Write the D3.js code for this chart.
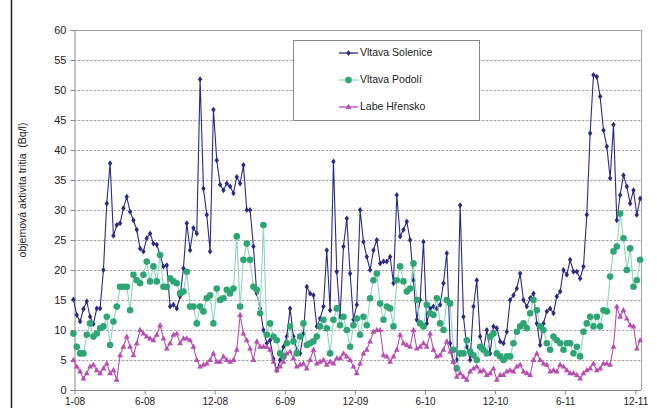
<!DOCTYPE html>
<html><head><meta charset="utf-8">
<script src="https://cdn.jsdelivr.net/npm/d3@7"></script>
<style>
body{margin:0;background:#fff}
svg{display:block}
text{font-family:"Liberation Sans",Arial,sans-serif;fill:#222}
</style>
</head><body>
<svg id="chart" width="657" height="408"></svg>
<script>
// ---- data ----
const tickLabels = ["1-08","6-08","12-08","6-09","12-09","6-10","12-10","6-11","12-11"];
const tickWeeks = [0,26,52,78,104,130,156,182,208];
const yTicks = [0,5,10,15,20,25,30,35,40,45,50,55,60];
const seriesNames = ["Vltava Solenice","Vltava Podolí","Labe Hřensko"];
const yTitle = "objemová aktivita tritia  (Bq/l)";

const solenice = [
15.1,12.5,11.4,13.5,14.8,12.2,11.0,13.6,13.6,20.0,
31.1,37.8,25.7,27.5,27.8,30.3,32.2,29.7,28.3,26.7,
23.6,23.1,25.3,26.1,24.4,24.2,22.5,20.6,20.8,13.9,
14.2,13.6,15.6,20.3,27.8,23.3,27.0,26.1,51.8,33.6,
29.2,23.1,46.7,38.3,34.2,33.3,34.4,33.9,32.8,35.5,
34.4,37.5,30.0,30.0,23.9,16.1,13.6,10.0,7.8,8.3,
5.2,3.3,5.0,7.2,8.9,13.6,8.9,6.7,6.1,9.4,
17.2,16.1,15.8,10.6,11.9,13.9,23.3,13.3,38.1,19.7,
12.2,23.9,28.6,19.4,11.7,14.2,30.0,24.7,22.2,20.0,
23.3,25.0,21.1,21.4,21.4,22.2,17.8,32.5,25.6,26.7,
28.1,25.0,18.3,11.7,15.0,24.7,11.1,13.6,13.9,13.6,
14.2,17.8,22.8,7.8,4.7,5.0,30.8,12.2,7.2,5.0,
13.9,18.3,8.9,6.7,10.0,6.1,10.6,10.3,8.1,7.8,
9.7,15.0,15.8,16.9,19.4,15.0,13.9,15.3,16.1,11.1,
7.5,11.1,13.1,13.6,12.8,15.6,16.4,20.0,19.2,21.7,
19.7,19.7,18.6,20.6,29.2,42.8,52.5,52.2,48.9,43.3,
40.6,35.3,44.2,28.3,32.5,35.8,33.9,31.1,33.3,29.2,
31.9];

const podoli = [
9.4,7.2,6.1,6.1,9.2,11.1,8.9,9.4,10.3,10.6,
12.2,7.5,11.4,13.9,17.2,17.2,17.2,13.3,19.2,18.3,
17.8,19.2,21.4,18.1,20.6,18.1,22.5,17.2,17.2,18.6,
18.1,17.8,16.1,16.4,19.7,13.9,13.9,11.1,13.9,13.1,
15.3,15.8,11.1,16.9,15.0,15.3,16.7,16.1,16.9,25.6,
13.9,21.7,24.4,21.7,17.2,16.7,12.8,27.5,9.2,11.1,
8.9,8.3,6.1,5.6,7.8,10.6,8.1,6.1,8.9,11.1,
7.5,7.8,8.1,8.9,10.6,11.7,10.3,6.1,11.7,13.6,
10.8,12.2,10.0,7.2,10.8,11.9,9.2,12.2,10.8,15.3,
18.3,19.4,14.4,11.7,13.9,13.6,10.6,18.3,20.6,18.1,
16.4,16.9,21.1,15.0,11.1,10.6,14.2,12.8,12.5,15.3,
11.1,10.0,15.0,14.4,6.7,3.6,6.1,6.1,8.3,6.4,
5.8,5.0,7.2,6.7,6.1,8.9,9.4,6.1,5.6,5.0,
5.6,5.6,7.8,9.7,10.6,11.1,10.3,12.8,15.0,13.3,
10.6,10.0,7.8,6.7,8.9,8.3,7.8,6.7,7.8,7.8,
6.1,7.2,5.6,9.7,11.1,12.2,10.6,12.2,10.6,13.3,
13.1,18.9,23.1,23.9,29.4,25.3,20.0,23.6,17.2,18.3,
21.7];

const labe = [
5.0,3.9,3.1,1.9,2.8,3.9,4.2,3.3,2.8,3.6,
4.4,2.8,3.3,1.7,5.8,7.2,8.9,7.2,5.8,7.8,
10.0,9.4,8.9,8.6,8.3,9.2,10.8,8.6,6.9,7.8,
9.2,9.4,7.8,8.6,8.6,8.3,7.2,5.0,3.9,4.2,
4.4,5.0,6.1,4.7,4.7,5.6,5.0,4.7,5.0,6.7,
12.5,9.4,8.3,6.9,5.0,8.1,7.2,7.2,7.2,6.7,
4.7,3.3,3.9,4.7,6.1,6.4,5.3,3.9,4.2,4.4,
3.6,5.0,6.7,4.4,4.7,5.0,4.2,4.7,4.4,5.3,
5.3,6.1,5.6,5.0,3.9,2.8,4.4,6.1,6.7,8.1,
9.7,10.0,10.0,5.8,5.6,4.7,5.6,6.7,9.2,7.8,
7.5,7.2,10.0,6.9,7.2,7.8,7.2,9.4,6.7,5.6,
5.8,6.7,8.1,6.4,4.7,2.2,2.8,2.2,1.7,3.1,
3.6,3.9,3.1,3.3,2.5,2.8,3.6,1.7,2.5,2.5,
3.1,3.3,3.1,3.9,4.2,3.1,2.8,2.5,5.0,6.1,
5.0,4.4,4.2,3.1,3.3,3.1,4.2,3.9,3.3,2.8,
2.8,2.5,1.9,2.8,3.3,3.6,4.4,3.3,3.6,4.4,
4.4,4.2,7.2,13.9,12.2,13.3,11.9,10.8,10.6,6.9,
8.3];

// ---- layout ----
const svg = d3.select("#chart");
const plot = {left:74, right:641, top:30, bottom:390};
const x = d3.scaleLinear().domain([0,208]).range([74.5,635.3]);
const y = d3.scaleLinear().domain([0,60]).range([plot.bottom, plot.top]);
const firstWeek = -0.4, lastWeek = 209.8;

// outer frame line at left
svg.append("line").attr("x1",11.5).attr("x2",11.5).attr("y1",0).attr("y2",408)
  .attr("stroke","#222").attr("stroke-width",1.5);

// gridlines
svg.append("g").selectAll("line").data(yTicks.filter(d=>d>0)).join("line")
  .attr("x1",plot.left).attr("x2",plot.right)
  .attr("y1",d=>Math.round(y(d))+0.5).attr("y2",d=>Math.round(y(d))+0.5)
  .attr("stroke","#8c8c8c").attr("stroke-width",0.8).attr("stroke-dasharray","2.5,1.5");

// plot border (top & right)
svg.append("path")
  .attr("d",`M${plot.left},${plot.top+0.5}H${plot.right+0.5}V${plot.bottom}`)
  .attr("fill","none").attr("stroke","#a0a0a0").attr("stroke-width",1);

// y axis
const yAxis = d3.axisLeft(y).tickValues(yTicks).tickSize(4).tickPadding(4);
const gy = svg.append("g").attr("transform",`translate(${plot.left+0.5},0)`).call(yAxis);
gy.select(".domain").attr("stroke","#888");
gy.selectAll(".tick line").attr("stroke","#888");
gy.selectAll(".tick text").attr("font-size","11px").attr("fill","#222")
  .attr("font-family",'"Liberation Sans",Arial,sans-serif');

// x axis
const xAxis = d3.axisBottom(x).tickValues(tickWeeks).tickFormat((d,i)=>tickLabels[i])
  .tickSize(4).tickPadding(3).tickSizeOuter(0);
const gx = svg.append("g").attr("transform",`translate(0,${plot.bottom+0.5})`).call(xAxis);
gx.select(".domain").attr("stroke","#888").attr("d",`M${plot.left},0H${plot.right}`);
gx.selectAll(".tick line").attr("stroke","#888");
gx.selectAll(".tick text").attr("font-size","10px").attr("fill","#222")
  .attr("font-family",'"Liberation Sans",Arial,sans-serif');

// y title
svg.append("text").attr("transform","translate(23,190) rotate(-90)")
  .attr("text-anchor","middle").attr("dominant-baseline","middle")
  .style("white-space","pre").attr("font-size","10.5px").text(yTitle);

// marker shapes
const diamond = "M0,-3L2.2,0L0,3L-2.2,0Z";
const triangle = "M0,-3.2L2.9,2L-2.9,2Z";

const series = [
  {name:seriesNames[0], values:solenice, line:"#2b2a86", lw:1.1, fill:"#2b2a86", shape:"diamond"},
  {name:seriesNames[1], values:podoli, line:"#8dd8b8", lw:1.1, fill:"#2ca673", shape:"circle"},
  {name:seriesNames[2], values:labe, line:"#b84db2", lw:1.1, fill:"#b84db2", shape:"triangle"}
];

function drawMarker(g, s, cx, cy){
  if (s.shape==="circle") {
    g.append("circle").attr("cx",cx).attr("cy",cy).attr("r",3.3).attr("fill",s.fill);
  } else {
    g.append("path").attr("d", s.shape==="diamond"?diamond:triangle)
      .attr("transform",`translate(${cx},${cy})`).attr("fill",s.fill);
  }
}

series.forEach(s=>{
  const n = s.values.length;
  const wk = i => firstWeek + i*(lastWeek-firstWeek)/(n-1);
  const g = svg.append("g");
  g.append("path").datum(s.values)
    .attr("d", d3.line().x((d,i)=>x(wk(i))).y(d=>y(d)))
    .attr("fill","none").attr("stroke",s.line).attr("stroke-width",s.lw);
  const mg = g.append("g");
  s.values.forEach((v,i)=>drawMarker(mg, s, x(wk(i)), y(v)));
});

// legend
const lg = svg.append("g");
lg.append("rect").attr("x",293.5).attr("y",40.5).attr("width",186).attr("height",80)
  .attr("fill","#fff").attr("stroke","#888");
const legY = [53,80,107];
series.forEach((s,i)=>{
  lg.append("line").attr("x1",339).attr("x2",358).attr("y1",legY[i]).attr("y2",legY[i])
    .attr("stroke",s.line).attr("stroke-width",1.3);
  drawMarker(lg, s, 348.5, legY[i]);
  lg.append("text").attr("x",360).attr("y",legY[i]).attr("dominant-baseline","middle")
    .attr("font-size","10.5px").text(s.name);
});
</script>
</body></html>
